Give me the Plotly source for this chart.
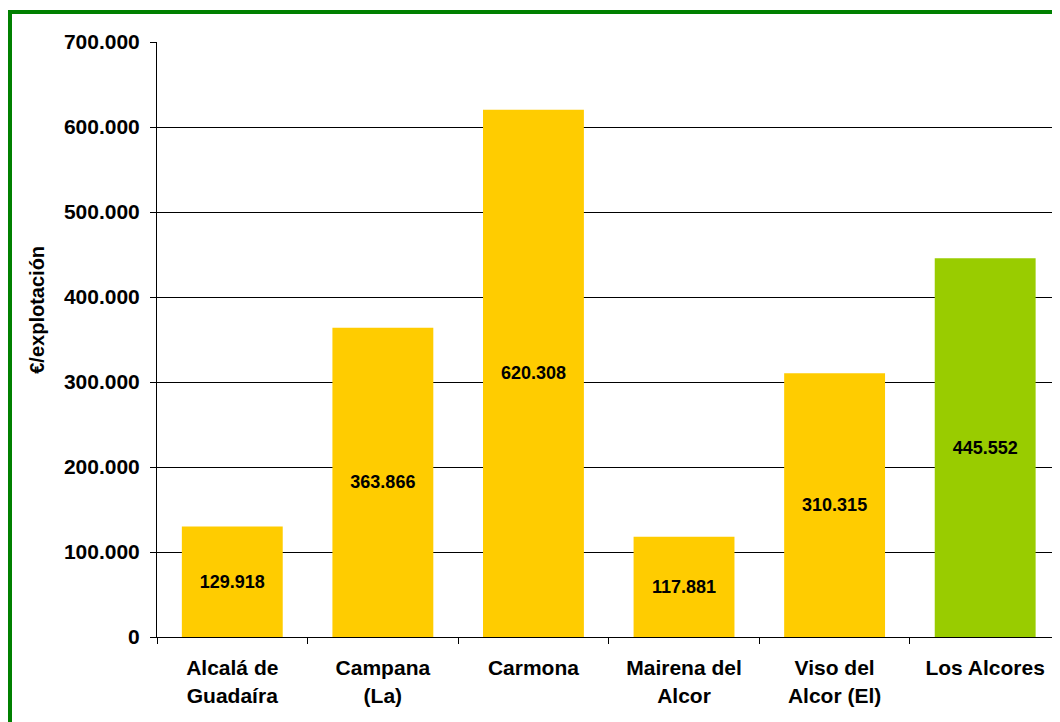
import plotly.graph_objects as go

municipios = ["Alcalá de<br>Guadaíra", "Campana<br>(La)", "Carmona",
              "Mairena del<br>Alcor", "Viso del<br>Alcor (El)", "Los Alcores"]
valores = [129918, 363866, 620308, 117881, 310315, 445552]
colores = ["#FFCC00"] * 5 + ["#99CC00"]

fuente = "Liberation Sans, Arial, sans-serif"

fig = go.Figure()
fig.add_trace(go.Bar(
    x=municipios,
    y=valores,
    marker=dict(color=colores, line=dict(width=0)),
    texttemplate="%{y:,.0f}",
    textposition="inside",
    insidetextanchor="middle",
    textfont=dict(family=fuente, size=18, color="black", weight="bold"),
    textangle=0,
))

# la página añade 8px de margen al cuerpo
fig.update_layout(
    width=1060, height=722,
    margin=dict(l=149, r=0, t=34, b=93),
    paper_bgcolor="white",
    plot_bgcolor="white",
    separators=",.",
    bargap=0.33,
    showlegend=False,
    font=dict(family=fuente, color="black"),
)

fig.update_yaxes(
    range=[0, 700000],
    dtick=100000,
    tickformat=",.0f",
    showgrid=True, gridcolor="black", gridwidth=1,
    showline=True, linecolor="black", linewidth=1,
    ticks="outside", ticklen=6, tickcolor="black",
    ticklabelstandoff=6,
    tickfont=dict(size=21, weight="bold"),
    zeroline=False,
)
fig.update_xaxes(
    range=[-0.5, 5.55],
    showline=True, linecolor="black", linewidth=1,
    ticks="outside", tickson="boundaries", ticklen=6, tickcolor="black",
    ticklabelstandoff=12,
    tickfont=dict(size=21, weight="bold"),
)

# título del eje Y
fig.add_annotation(text="€/explotación", xref="paper", yref="paper",
                   x=0, y=0.55, xshift=-120, xanchor="center", yanchor="middle",
                   textangle=-90, showarrow=False,
                   font=dict(size=20, weight="bold"))

# marco verde (recortado a derecha y abajo)
fig.add_shape(type="rect", xref="paper", yref="paper",
              x0=(2 - 149) / 911, x1=1.2, y0=-0.3, y1=(629 - 4) / 595,
              line=dict(color="#008000", width=4), layer="above")

fig.write_html("out.html")
